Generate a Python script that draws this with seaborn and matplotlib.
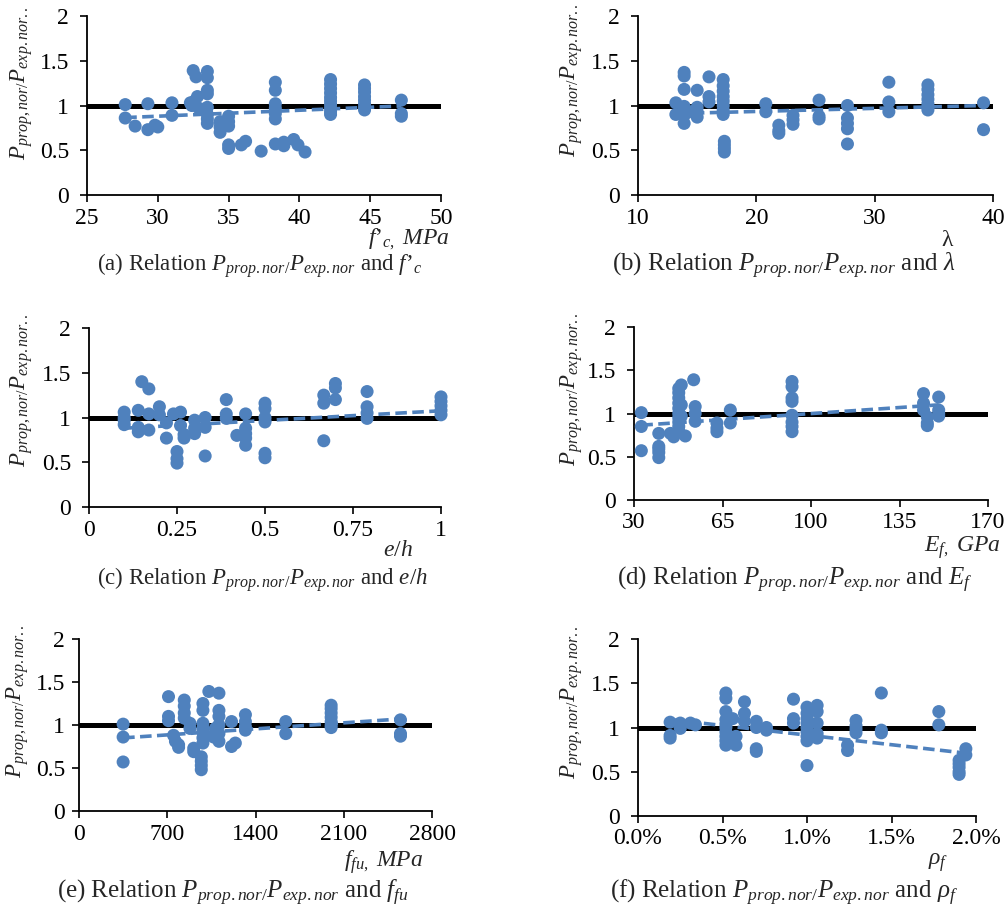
import matplotlib
matplotlib.use("Agg")
import matplotlib.pyplot as plt
import seaborn as sns
from matplotlib.ticker import FuncFormatter, PercentFormatter

# ─────────────────────────────────────────
# Data (ratio Pprop/Pexp vs each parameter)
# ─────────────────────────────────────────
fc = [27.7, 27.7, 28.4, 29.3, 29.3, 30.0, 29.8, 31.0, 31.0,
      32.5, 32.7, 32.6, 32.4, 32.8, 32.9, 32.3,
      33.5, 33.5, 33.5, 33.5, 33.5, 33.5, 33.5, 33.5,
      34.4, 34.4, 34.4, 34.6,
      35.0, 35.0, 35.0, 35.0, 35.0,
      35.9, 36.2, 37.3,
      38.3, 38.3, 38.3, 38.3, 38.3, 38.3, 38.3,
      38.9, 38.9, 39.6, 39.9, 40.4,
      42.2, 42.2, 42.2, 42.2, 42.2, 42.2, 42.2, 42.2, 42.2, 42.2,
      44.6, 44.6, 44.6, 44.6, 44.6, 44.6, 44.6, 44.6,
      47.2, 47.2, 47.2]
ratio_fc = [1.01, 0.86, 0.77, 1.02, 0.73, 0.76, 0.78, 1.03, 0.89,
            1.39, 1.32, 1.05, 1.00, 1.10, 0.97, 1.03,
            1.38, 1.31, 1.17, 1.13, 0.98, 0.90, 0.85, 0.80,
            0.82, 0.70, 0.76, 0.79,
            0.88, 0.82, 0.77, 0.56, 0.52,
            0.56, 0.60, 0.49,
            1.26, 1.17, 1.02, 0.97, 0.91, 0.85, 0.57,
            0.55, 0.59, 0.62, 0.56, 0.48,
            1.29, 1.24, 1.19, 1.14, 1.09, 1.05, 1.01, 0.97, 0.93, 0.90,
            1.23, 1.19, 1.15, 1.10, 1.06, 1.02, 0.98, 0.95,
            1.06, 0.91, 0.88]

lam = [13.2, 13.2,
       13.9, 13.9, 13.9, 13.9, 13.9, 13.9, 13.9, 14.3,
       15.0, 15.0, 15.0, 15.0,
       16.0, 16.0, 16.0,
       17.2, 17.2, 17.2, 17.2, 17.2, 17.2, 17.2, 17.2,
       17.3, 17.3, 17.3, 17.3,
       20.8, 20.8, 21.9, 21.9, 21.9, 23.1, 23.1, 23.1,
       25.3, 25.3, 25.3,
       27.7, 27.7, 27.7, 27.7, 27.7,
       31.2, 31.2, 31.2,
       34.5, 34.5, 34.5, 34.5, 34.5, 34.5, 34.5,
       39.2, 39.2]
ratio_lam = [1.03, 0.90,
             1.37, 1.33, 1.18, 0.99, 0.95, 0.89, 0.80, 0.93,
             1.17, 0.98, 0.93, 0.87,
             1.32, 1.10, 1.04,
             1.29, 1.22, 1.16, 1.10, 1.05, 1.00, 0.95, 0.90,
             0.60, 0.56, 0.52, 0.48,
             1.02, 0.93, 0.78, 0.72, 0.69, 0.89, 0.84, 0.79,
             1.06, 0.88, 0.85,
             1.00, 0.86, 0.80, 0.74, 0.57,
             1.26, 1.04, 0.93,
             1.23, 1.18, 1.12, 1.07, 1.02, 0.98, 0.95,
             1.03, 0.73]

eh = [0.10, 0.10, 0.10, 0.10, 0.14, 0.14, 0.14, 0.15,
      0.17, 0.17, 0.17, 0.20, 0.20, 0.22, 0.22, 0.24,
      0.25, 0.25, 0.25, 0.26, 0.26, 0.27, 0.27,
      0.30, 0.30, 0.30, 0.33, 0.33, 0.33,
      0.39, 0.39, 0.39, 0.42,
      0.445, 0.445, 0.445, 0.445, 0.445,
      0.50, 0.50, 0.50, 0.50, 0.50, 0.50,
      0.667, 0.667, 0.667, 0.70, 0.70, 0.70,
      0.79, 0.79, 0.79, 0.79,
      1.0, 1.0, 1.0, 1.0, 1.0]
ratio_eh = [1.06, 1.00, 0.97, 0.92, 1.08, 0.89, 0.84, 1.40,
            1.32, 1.04, 0.86, 1.12, 1.03, 0.94, 0.77, 1.04,
            0.62, 0.54, 0.49, 1.06, 0.91, 0.77, 0.81,
            0.97, 0.82, 0.88, 1.00, 0.89, 0.57,
            1.20, 1.04, 0.99, 0.80,
            1.04, 0.88, 0.82, 0.77, 0.69,
            1.16, 1.10, 1.00, 0.95, 0.60, 0.55,
            1.25, 1.16, 0.74, 1.38, 1.33, 1.20,
            1.29, 1.12, 1.05, 0.99,
            1.23, 1.18, 1.13, 1.08, 1.03]

ef = [32.9, 32.9, 32.9,
      39.8, 39.8, 39.8, 39.8, 39.8, 44.4, 45.7,
      47.7, 47.7, 47.7, 47.7, 47.7, 47.7, 47.7, 47.7, 47.7, 47.7,
      48.7, 48.7, 48.7, 50.3, 53.6, 54.2, 54.2, 54.2,
      62.8, 62.8, 62.8, 68.1, 68.1,
      92.5, 92.5, 92.5, 92.5, 92.5, 92.5, 92.5, 92.5,
      144.5, 144.5, 144.5, 146.0, 146.0, 146.0,
      150.5, 150.5, 150.5, 150.5]
ratio_ef = [1.01, 0.85, 0.57,
            0.77, 0.62, 0.59, 0.55, 0.49, 0.77, 0.73,
            1.29, 1.24, 1.18, 1.12, 1.06, 1.00, 0.95, 0.90, 0.85, 0.80,
            1.33, 1.10, 0.97, 0.74, 1.39, 1.08, 1.00, 0.91,
            0.89, 0.83, 0.79, 1.04, 0.89,
            1.37, 1.31, 1.18, 1.14, 0.98, 0.90, 0.85, 0.79,
            1.23, 1.12, 1.04, 0.96, 0.89, 0.86,
            1.19, 1.04, 0.97, 1.00]

ffu = [350, 350, 350, 710, 710, 710, 750, 765, 790, 790,
       835, 835, 835, 835, 880, 880, 910, 910,
       970, 970, 970, 970,
       983, 983, 983, 983, 983, 983, 983,
       1030, 1068, 1081,
       1110, 1110, 1110, 1110, 1110, 1110,
       1210, 1210, 1240, 1320, 1320, 1320, 1320,
       1640, 1640,
       2000, 2000, 2000, 2000, 2000, 2000, 2000,
       2550, 2550, 2550]
ratio_ffu = [1.01, 0.86, 0.57, 1.33, 1.10, 1.05, 0.88, 0.81, 0.74, 0.77,
             1.29, 1.22, 1.14, 1.08, 1.02, 0.96, 0.73, 0.69,
             0.63, 0.58, 0.53, 0.48,
             1.25, 1.17, 1.02, 0.96, 0.92, 0.85, 0.79,
             1.39, 0.86, 0.96,
             1.37, 1.17, 1.10, 1.00, 0.90, 0.81,
             1.04, 0.75, 0.79, 1.12, 1.04, 0.98, 0.94,
             1.04, 0.90,
             1.23, 1.19, 1.14, 1.09, 1.04, 1.00, 0.97,
             1.06, 0.90, 0.87]

rho = [0.0019, 0.0019, 0.0019, 0.0025, 0.0025, 0.0031, 0.0034,
       0.0052, 0.0052, 0.0052, 0.0052, 0.0052, 0.0052, 0.0052, 0.0052, 0.0052, 0.0052,
       0.0056, 0.0058, 0.0058, 0.0063, 0.0063, 0.0063,
       0.0070, 0.0070, 0.0070, 0.0070, 0.0076, 0.0076,
       0.0092, 0.0092, 0.0092,
       0.0100, 0.0100, 0.0100, 0.0100, 0.0100, 0.0100, 0.0100, 0.0100, 0.0100,
       0.0106, 0.0106, 0.0106, 0.0106, 0.0106,
       0.0124, 0.0124, 0.0129, 0.0129, 0.0129, 0.0129,
       0.0144, 0.0144, 0.0144, 0.0178, 0.0178,
       0.0194, 0.0194, 0.0190, 0.0190, 0.0190, 0.0190, 0.0190]
ratio_rho = [1.06, 0.91, 0.88, 0.99, 1.05, 1.05, 1.03,
             1.39, 1.33, 1.18, 1.09, 1.04, 1.00, 0.95, 0.90, 0.85, 0.80,
             1.10, 0.90, 0.80, 1.29, 1.16, 1.07,
             1.07, 1.00, 0.76, 0.73, 0.97, 1.00,
             1.32, 1.10, 1.05,
             1.23, 1.16, 1.10, 1.05, 1.00, 0.95, 0.90, 0.85, 0.57,
             1.25, 1.18, 1.05, 0.93, 0.88,
             0.80, 0.74, 1.08, 1.02, 0.98, 0.94,
             1.39, 0.97, 0.94, 1.18, 1.03,
             0.76, 0.69, 0.63, 0.59, 0.55, 0.50, 0.47]

# dashed linear trend lines (end points)
trend_fc = ([27.7, 47.2], [0.865, 0.995])
trend_lam = ([13.2, 39.2], [0.91, 1.00])
trend_eh = ([0.10, 1.00], [0.88, 1.075])
trend_ef = ([32.9, 150.5], [0.865, 1.10])
trend_ffu = ([350, 2550], [0.85, 1.07])
trend_rho = ([0.0019, 0.0194], [1.09, 0.71])

REF = 1.0
y_ticks = [0, 0.5, 1, 1.5, 2]

# ─────────────────────────────────────────
# Style
# ─────────────────────────────────────────
sns.set_theme(style="ticks")
plt.rcParams['font.family'] = ['Liberation Serif', 'DejaVu Serif']
plt.rcParams['mathtext.fontset'] = 'custom'
plt.rcParams['mathtext.rm'] = 'Liberation Serif'
plt.rcParams['mathtext.it'] = 'Liberation Serif:italic'
plt.rcParams['mathtext.bf'] = 'Liberation Serif:bold'

BLUE = '#4F81BD'
W, H = 1006, 910
fig = plt.figure(figsize=(W / 100, H / 100), dpi=100)
fig.patch.set_facecolor('white')

YLAB = r'$P_{prop,nor/}P_{exp.nor..}$'
CAP = r'$P_{prop.nor/}P_{exp.nor}$'

panels = [
    dict(x=fc, y=ratio_fc, tr=trend_fc, box=(87, 16, 441, 195),
         xlim=(25, 50), xt=[25, 30, 35, 40, 45, 50],
         xl=r"$f$’$_{c,}\ MPa$", xlpos=(450, 239), xlha='right',
         cap=r"(a) Relation " + CAP + r" and $f$’$_{c}$", cappos=(97, 266),
         capfs=16.5, ylpos=(22, 83)),
    dict(x=lam, y=ratio_lam, tr=trend_lam, box=(638, 16, 993, 195),
         xlim=(10, 40), xt=[10, 20, 30, 40],
         xl='λ', xlpos=(947, 241), xlha='center',
         cap=r"(b) Relation " + CAP + r" and $\lambda$", cappos=(612, 266),
         capfs=18, ylpos=(572, 80)),
    dict(x=eh, y=ratio_eh, tr=trend_eh, box=(89, 328, 441, 507),
         xlim=(0, 1), xt=[0, 0.25, 0.5, 0.75, 1],
         xl=r'$e/h$', xlpos=(413, 551), xlha='right',
         cap=r"(c) Relation " + CAP + r" and $e/h$", cappos=(97, 580),
         capfs=16.5, ylpos=(22, 390)),
    dict(x=ef, y=ratio_ef, tr=trend_ef, box=(634, 327, 988, 500),
         xlim=(30, 170), xt=[30, 65, 100, 135, 170],
         xl=r'$E_{f,}\ GPa$', xlpos=(1000, 548), xlha='right',
         cap=r"(d) Relation " + CAP + r" and $E_{f}$", cappos=(617, 580),
         capfs=18, ylpos=(572, 389)),
    dict(x=ffu, y=ratio_ffu, tr=trend_ffu, box=(79, 639, 432, 811),
         xlim=(0, 2800), xt=[0, 700, 1400, 2100, 2800],
         xl=r'$f_{fu,}\ MPa$', xlpos=(423, 862), xlha='right',
         cap=r"(e) Relation " + CAP + r" and $f_{fu}$", cappos=(57, 893),
         capfs=18, ylpos=(18, 701)),
    dict(x=rho, y=ratio_rho, tr=trend_rho, box=(638, 639, 976, 816),
         xlim=(0, 0.02), xt=[0, 0.005, 0.01, 0.015, 0.02],
         xl=r'$\rho_{f}$', xlpos=(938, 863), xlha='center',
         cap=r"(f) Relation " + CAP + r" and $\rho_{f}$", cappos=(610, 893),
         capfs=18, ylpos=(572, 702)),
]

fmt_g = FuncFormatter(lambda v, p: f'{v:g}')

for i, p in enumerate(panels):
    l, t, r, b = p['box']
    ax = fig.add_axes([l / W, 1 - b / H, (r - l) / W, (b - t) / H])
    ax.set_facecolor('white')

    ax.axhline(REF, color='black', lw=3.6, zorder=1)
    ax.plot(p['tr'][0], p['tr'][1], color=BLUE, lw=2.6, ls='--',
            dashes=(3.2, 1.5), zorder=2)
    sns.scatterplot(x=p['x'], y=p['y'], ax=ax, color=BLUE, s=88,
                    edgecolor='none', linewidth=0, zorder=3, clip_on=False)

    ax.set_xlim(*p['xlim'])
    ax.set_ylim(0, 2)
    ax.set_xticks(p['xt'])
    ax.set_yticks(y_ticks)
    ax.yaxis.set_major_formatter(fmt_g)
    if i == 5:
        ax.xaxis.set_major_formatter(PercentFormatter(xmax=1, decimals=1))
    else:
        ax.xaxis.set_major_formatter(fmt_g)

    sns.despine(ax=ax)
    for s in ['left', 'bottom']:
        ax.spines[s].set_color('black')
        ax.spines[s].set_linewidth(1.3)
    ax.tick_params(axis='both', direction='out', length=5, width=1.2,
                   color='black', labelcolor='black', labelsize=17)
    ax.tick_params(axis='y', pad=8 if i != 4 else 5)
    ax.tick_params(axis='x', pad=4)

    # y label, anchored by its centre
    ax.set_ylabel(YLAB, fontsize=16.5, va='center', ha='center')
    ax.yaxis.set_label_coords((p['ylpos'][0] - l) / (r - l),
                              (b - p['ylpos'][1]) / (b - t))

    fig.text(p['xlpos'][0] / W, 1 - p['xlpos'][1] / H, p['xl'],
             ha=p['xlha'], va='center', fontsize=17)
    fig.text(p['cappos'][0] / W, 1 - p['cappos'][1] / H, p['cap'],
             ha='left', va='center', fontsize=p['capfs'])

fig.savefig('out.png', dpi=100, facecolor='white')
